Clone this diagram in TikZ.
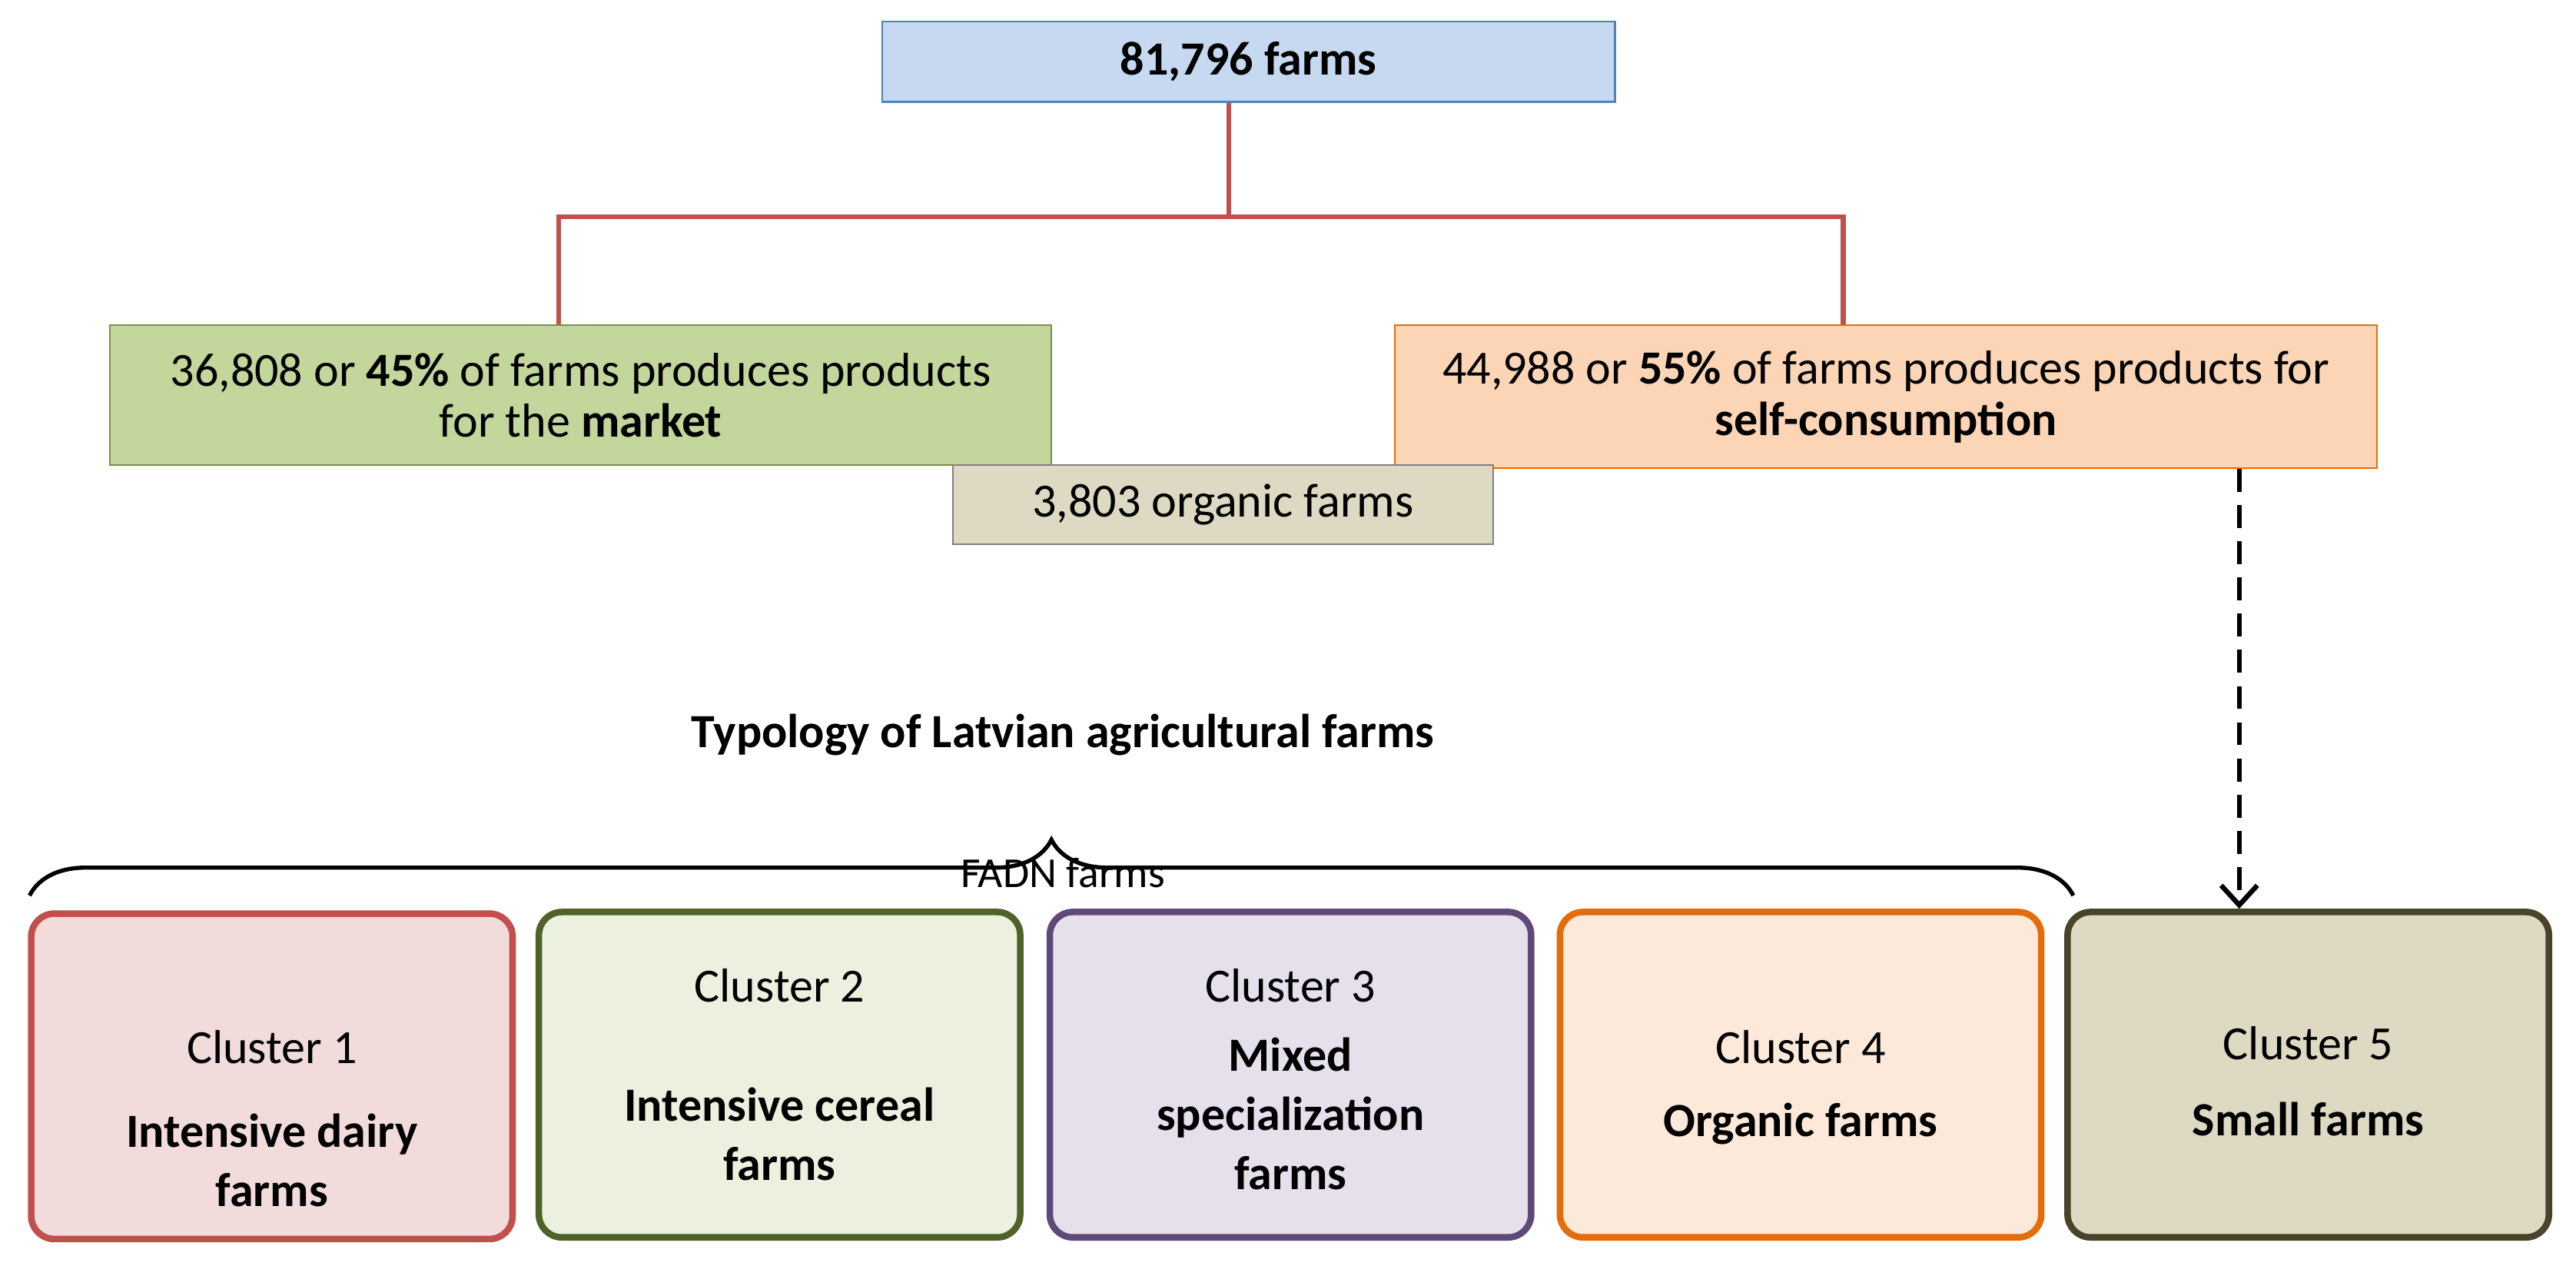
\documentclass[tikz,border=0pt]{standalone}
\usepackage{fontspec}
\setmainfont{Carlito}
\usetikzlibrary{decorations.pathreplacing,arrows.meta}
\definecolor{c1f}{HTML}{F2DCDB}\definecolor{c1d}{HTML}{C0504D}
\definecolor{c2f}{HTML}{EBF1DE}\definecolor{c2d}{HTML}{4F6228}
\definecolor{c3f}{HTML}{E5E0EC}\definecolor{c3d}{HTML}{5F497A}
\definecolor{c4f}{HTML}{FDE9D9}\definecolor{c4d}{HTML}{E46C0A}
\definecolor{c5f}{HTML}{DDD9C3}\definecolor{c5d}{HTML}{494429}
\begin{document}
\begin{tikzpicture}[x=1pt,y=-1pt,
 box/.style={draw,line width=1pt,inner sep=0pt,font=\fontsize{29}{31}\selectfont,align=center},
 cl/.style={draw,line width=4pt,rounded corners=14pt,minimum width=293pt,minimum height=198pt,inner sep=0pt},
 ctext/.style={align=center,font=\fontsize{29}{36}\selectfont},
 btext/.style={align=center,font=\bfseries\fontsize{29}{36}\selectfont}]
\useasboundingbox (0,0) rectangle (1568,770);
\node[box,fill={rgb,255:red,198;green,217;blue,241},draw={rgb,255:red,79;green,129;blue,189},minimum width=446pt,minimum height=49pt] (top) at (760,37.5) {\textbf{81,796 farms}};
\node[box,fill={rgb,255:red,195;green,214;blue,155},draw={rgb,255:red,119;green,147;blue,60},minimum width=573pt,minimum height=85pt] (mk) at (353.5,240.5) {36,808 or \textbf{45\%} of farms produces products\\for the \textbf{market}};
\node[box,fill={rgb,255:red,251;green,213;blue,181},draw={rgb,255:red,227;green,108;blue,9},minimum width=598pt,minimum height=87pt] (sc) at (1148,241.5) {44,988 or \textbf{55\%} of farms produces products for\\\textbf{self-consumption}};
\node[box,fill=c5f,draw=gray,minimum width=329pt,minimum height=48pt] (org) at (744.5,307) {3,803 organic farms};
\coordinate (j) at (748,132);
\draw[line width=3pt,c1d] (top.south -| j) -- (j);
\draw[line width=3pt,c1d] (mk.north -| 340,0) |- (1122,132) -- (sc.north -| 1122,0);
\node[btext] (ty) at (647,447) {Typology of Latvian agricultural farms};
\node[font=\fontsize{26}{30}\selectfont] (fadn) at (647,531) {FADN farms};
\coordinate (bl) at (18,545); \coordinate (br) at (1262,545);
\draw[line width=2.5pt,decorate,decoration={brace,amplitude=34pt}] (bl) -- (br);
\node[cl,draw=c1d,fill=c1f] (k1) at (165.5,655) {};
\node[cl,draw=c2d,fill=c2f] (k2) at (474.5,654) {};
\node[cl,draw=c3d,fill=c3f] (k3) at (785.5,654) {};
\node[cl,draw=c4d,fill=c4f] (k4) at (1096,654) {};
\node[cl,draw=c5d,fill=c5f] (k5) at (1405,654) {};
\draw[line width=3pt,dash pattern=on 14pt off 8pt,-{Straight Barb[length=12pt,width=22pt]}] (sc.south -| 1363,0) -- (k5.north -| 1363,0);
\node[ctext] at (165.5,637) {Cluster 1};
\node[btext] at (165.5,706) {Intensive dairy\\farms};
\node[ctext] at (474.5,600) {Cluster 2};
\node[btext] at (474.5,690) {Intensive cereal\\farms};
\node[ctext] at (785.5,600) {Cluster 3};
\node[btext] at (785.5,678) {Mixed\\specialization\\farms};
\node[ctext] at (1096,637) {Cluster 4};
\node[btext] at (1096,684) {Organic farms};
\node[ctext] at (1405,635) {Cluster 5};
\node[btext] at (1405,681) {Small farms};
\end{tikzpicture}
\end{document}
